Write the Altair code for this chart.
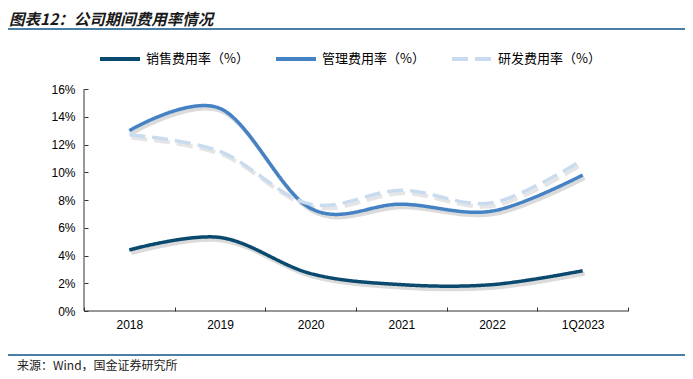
import altair as alt
import pandas as pd

categories = ["2018", "2019", "2020", "2021", "2022", "1Q2023"]
series_names = ["销售费用率（%）", "管理费用率（%）", "研发费用率（%）"]
sales = [4.4, 5.3, 2.7, 1.9, 1.9, 2.9]
admin = [13.0, 14.6, 7.4, 7.7, 7.2, 9.8]
rnd = [12.7, 11.5, 7.7, 8.7, 7.8, 10.9]
y_ticks = [0, 2, 4, 6, 8, 10, 12, 14, 16]
colors = ["#0b4a6f", "#4582c4", "#c9dcef"]
dashes = [[1, 0], [1, 0], [16, 7]]

rows = []
for name, vals in zip(series_names, [sales, admin, rnd]):
    for c, v in zip(categories, vals):
        rows.append({"cat": c, "series": name, "value": v})
df = pd.DataFrame(rows)

W, H = 544, 222
FONT_CJK = "Noto Sans CJK SC"
FONT_NUM = "Liberation Sans"

x_axis = alt.Axis(labelAngle=0, tickBand="extent", ticks=True, tickSize=4,
                  tickColor="#333", offset=-4, domain=False,
                  labelFont=FONT_NUM, labelFontSize=12,
                  labelColor="#000", labelPadding=8, orient="bottom")
y_axis = alt.Axis(values=y_ticks, tickCount=9, labelExpr="datum.value + '%'", grid=False,
                  labelOverlap=False, labelFlush=False,
                  ticks=True, tickSize=4, tickColor="#333", offset=-4, domain=False,
                  labelFont=FONT_NUM, labelFontSize=12, labelColor="#000",
                  labelPadding=9, orient="left")
x_scale = alt.Scale(paddingInner=0, paddingOuter=0)
y_scale = alt.Scale(domain=[0, 16], nice=False, zero=True)


def X():
    return alt.X("cat:N", sort=categories, title=None, scale=x_scale, axis=x_axis)


def Y():
    return alt.Y("value:Q", title=None, scale=y_scale, axis=y_axis)


shadow_solid = alt.Chart(df).transform_filter(
    alt.datum.series != series_names[2]
).mark_line(
    interpolate="cardinal", strokeWidth=4, color="#888", opacity=0.3, xOffset=2, yOffset=3
).encode(x=X(), y=Y(), detail="series:N")

shadow_dash = alt.Chart(df).transform_filter(
    alt.datum.series == series_names[2]
).mark_line(
    interpolate="cardinal", strokeWidth=4, color="#888", opacity=0.22, xOffset=2, yOffset=3,
    strokeDash=[16, 7]
).encode(x=X(), y=Y())

leg = dict(orient="none", legendX=14, legendY=-52, direction="horizontal",
           title=None, symbolType="stroke", symbolSize=1600,
           symbolStrokeWidth=4, labelFont=FONT_CJK, labelFontSize=13,
           labelColor="#000", labelOffset=4, columnPadding=19,
           columns=3, labelLimit=200)

lines = alt.Chart(df).mark_line(interpolate="cardinal", strokeWidth=3.5).encode(
    x=X(),
    y=Y(),
    color=alt.Color("series:N", sort=series_names,
                    scale=alt.Scale(domain=series_names, range=colors),
                    legend=alt.Legend(**leg)),
    strokeDash=alt.StrokeDash("series:N", sort=series_names,
                              scale=alt.Scale(domain=series_names, range=dashes),
                              legend=alt.Legend(**leg)),
)

one = pd.DataFrame({"t": ["图表12：公司期间费用率情况"]})
title = alt.Chart(one).mark_text(
    align="left", baseline="middle", font=FONT_CJK, fontSize=15.5, fontStyle="italic",
    fontWeight="bold", color="#1a1a1a"
).encode(x=alt.value(-75), y=alt.value(-69.5), text="t:N")

source_df = pd.DataFrame({"t": ["来源：Wind，国金证券研究所"]})
source = alt.Chart(source_df).mark_text(
    align="left", baseline="middle", font=FONT_CJK, fontSize=12, color="#222"
).encode(x=alt.value(-67), y=alt.value(276.5), text="t:N")

rule_top = alt.Chart(one).mark_rule(color="#4a7fa5", strokeWidth=2).encode(
    x=alt.value(-76), x2=alt.value(W + 57), y=alt.value(-60))
rule_bot = alt.Chart(one).mark_rule(color="#4a7fa5", strokeWidth=2).encode(
    x=alt.value(-76), x2=alt.value(W + 57), y=alt.value(266))
x_domain = alt.Chart(one).mark_rule(color="#333", strokeWidth=1).encode(
    x=alt.value(0), x2=alt.value(W), y=alt.value(H))
y_domain = alt.Chart(one).mark_rule(color="#333", strokeWidth=1).encode(
    x=alt.value(0), y=alt.value(0), y2=alt.value(H))

chart = alt.layer(shadow_solid, shadow_dash, lines, x_domain, y_domain,
                  title, source, rule_top, rule_bot).properties(
    width=W, height=H,
    autosize=alt.AutoSizeParams(type="none"),
    padding={"left": 76, "top": 81, "right": 57, "bottom": 60},
).configure_view(stroke=None)

chart.save("out.html", embed_options={"renderer": "svg", "actions": False})
